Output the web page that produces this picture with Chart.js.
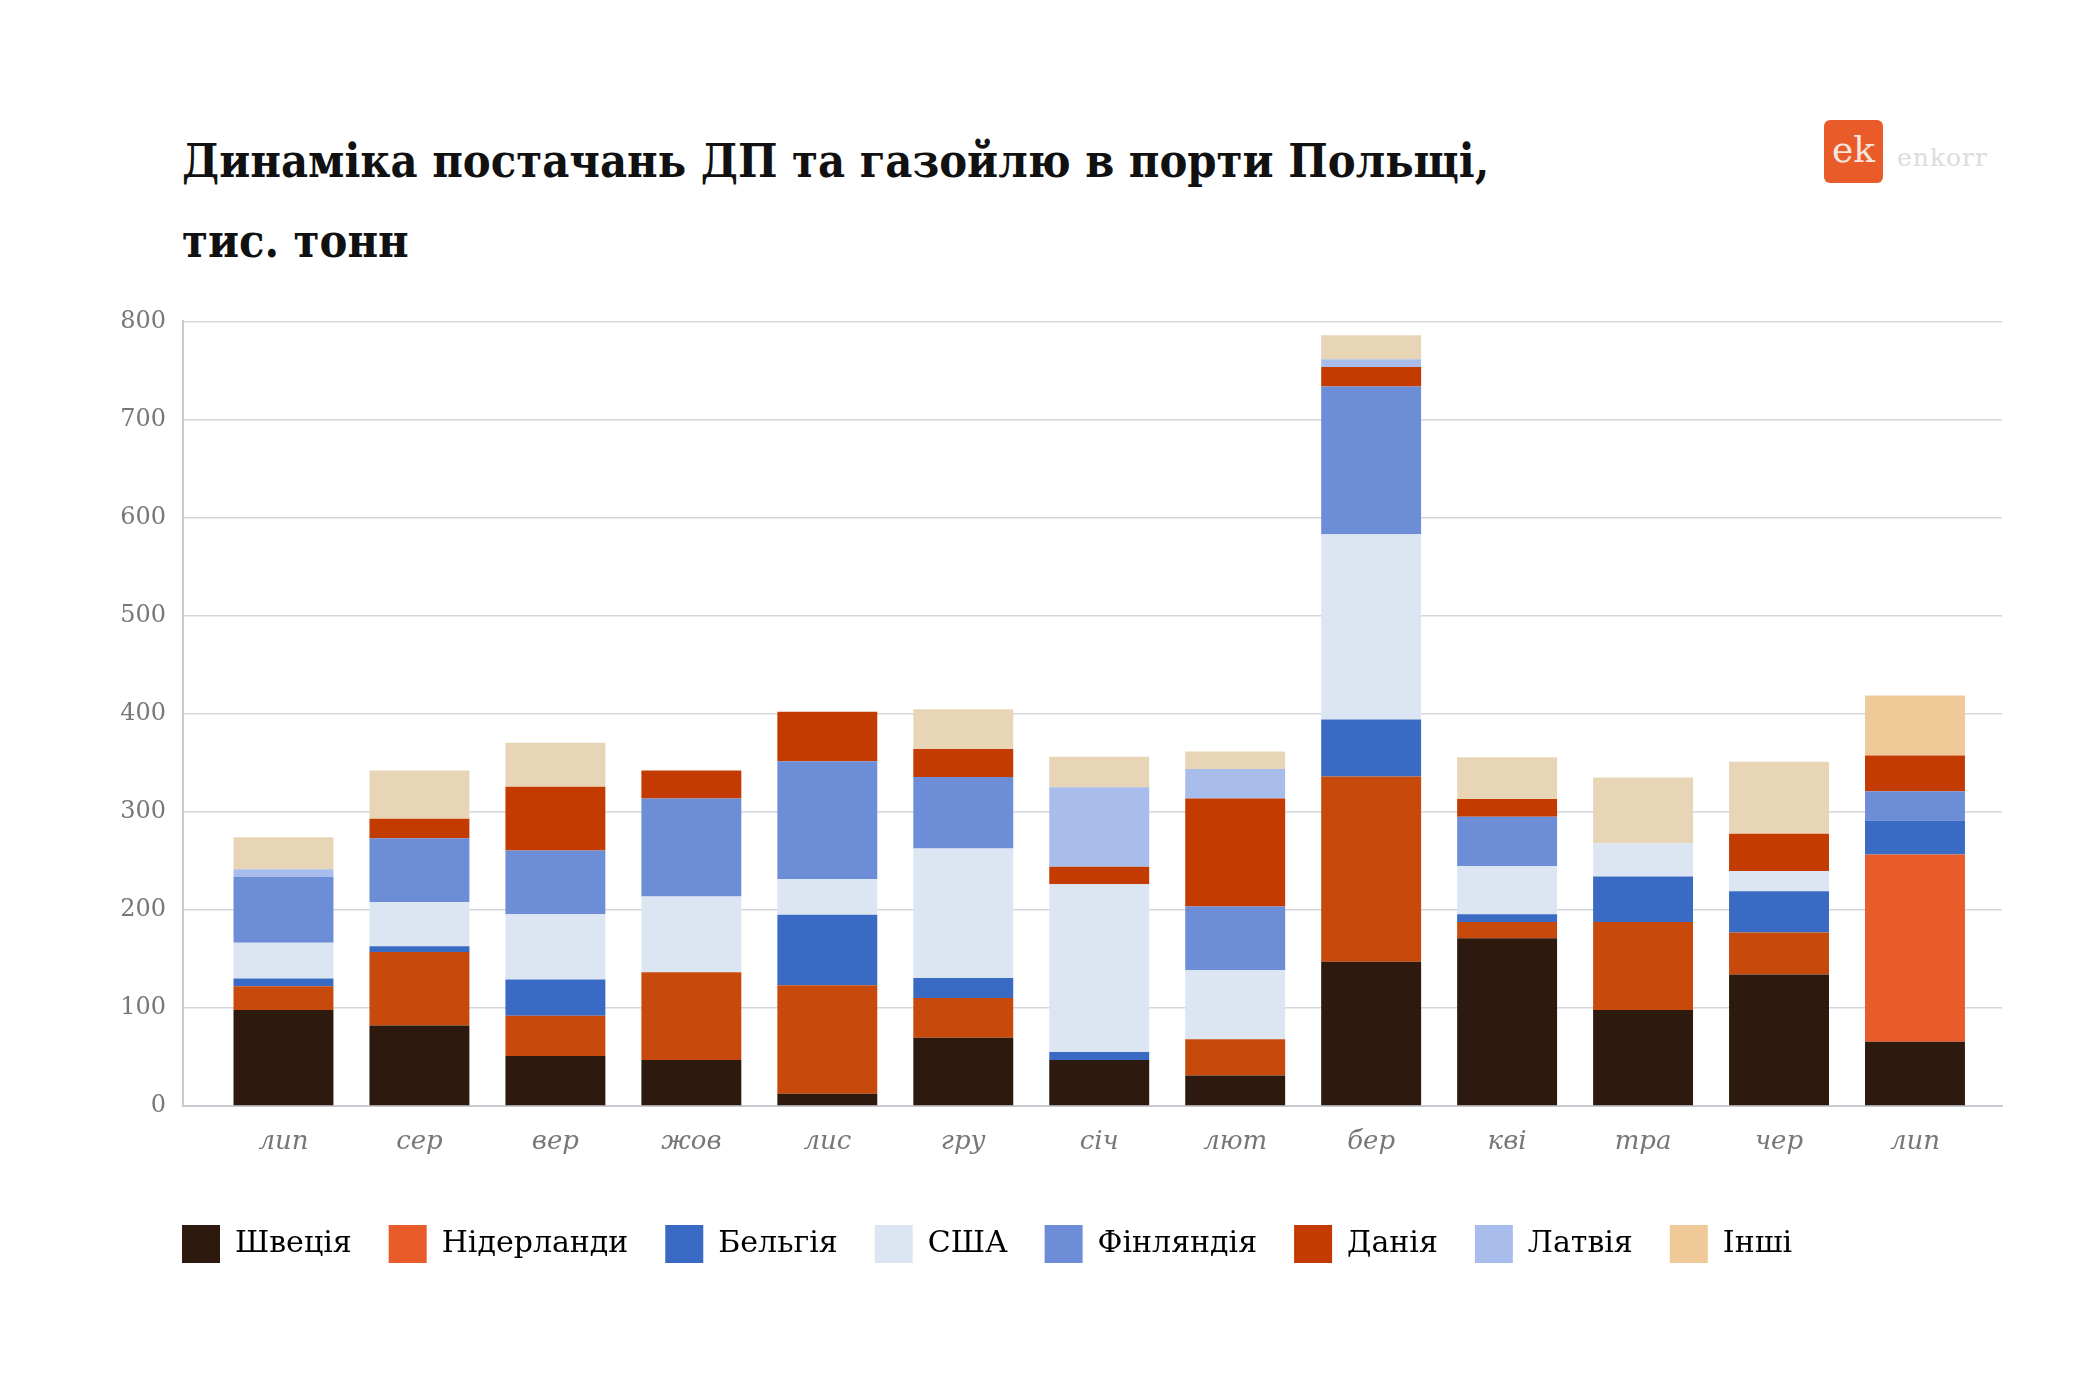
<!DOCTYPE html>
<html>
<head>
<meta charset="utf-8">
<script src="https://cdn.jsdelivr.net/npm/chart.js@4.4.1/dist/chart.umd.min.js"></script>
<style>
  html, body { margin: 0; padding: 0; background: #fff; }
  body { width: 2100px; height: 1390px; position: relative; overflow: hidden; font-family: "DejaVu Serif", serif; }
  .title { position: absolute; left: 182px; font-weight: bold; font-size: 46px; color: #111; white-space: nowrap;
           transform: scaleX(0.91); transform-origin: left center; }
  #t1 { top: 134px; }
  #t2 { top: 214px; }
  .logo { position: absolute; left: 1824px; top: 120px; width: 59px; height: 63px; background: #EA5B2A; border-radius: 6px;
          color: #f3e6df; font-size: 36px; line-height: 60px; text-align: center; }
  .logo-word { position: absolute; left: 1897px; top: 143px; font-size: 25px; color: #dcdcdc; letter-spacing: 1px; }
  #wrap { position: absolute; left: 0; top: 290px; width: 2100px; height: 983px; }
</style>
</head>
<body>
<div class="title" id="t1">Динаміка постачань ДП та газойлю в порти Польщі,</div>
<div class="title" id="t2">тис. тонн</div>
<div class="logo">ek</div>
<div class="logo-word">enkorr</div>
<div id="wrap"><canvas id="chart"></canvas></div>

<script>
// months (July to July)
const months = ['лип', 'сер', 'вер', 'жов', 'лис', 'гру', 'січ', 'лют', 'бер', 'кві', 'тра', 'чер', 'лип'];
const yTicks = [0, 100, 200, 300, 400, 500, 600, 700, 800];

// thousand tonnes
const sweden      = [98, 82, 51, 47, 12.5, 69.5, 47, 31, 147, 171, 98, 134, 65.5];
const netherlands = [24, 75, 41, 89.5, 110.5, 40.5, 0, 37, 189, 16.5, 89.5, 43, 191];
const belgium     = [8, 6, 37, 0, 72, 20.5, 8, 0, 58, 8, 46.5, 42, 34.5];
const usa         = [36.5, 45, 66.5, 77, 36.5, 132, 171, 70.5, 189, 49, 34, 20.5, 0];
const finland     = [67, 65, 65, 100, 120, 73, 0, 65, 150.5, 50.5, 0, 0, 30];
const denmark     = [0, 20, 65, 28.5, 50.5, 28.5, 18, 110, 20, 18, 0, 38, 36.5];
const latvia      = [8, 0, 0, 0, 0, 0, 81, 30, 8, 0, 0, 0, 0];
const others      = [32.5, 49, 45, 0, 0, 40.5, 31, 18, 24.5, 42.5, 67, 73.5, 61];

const names = ['Швеція', 'Нідерланди', 'Бельгія', 'США', 'Фінляндія', 'Данія', 'Латвія', 'Інші'];
const series = [sweden, netherlands, belgium, usa, finland, denmark, latvia, others];
// legend colours (also used on the last bar); older bars use a slightly different tone for two series
const legendColors = ['#2D190D', '#E95B29', '#3A6BC4', '#DCE6F2', '#6D8ED6', '#C33B00', '#A8BDEB', '#F0C999'];
const oldColors    = ['#2D190D', '#C74A0C', '#3A6BC4', '#DCE6F2', '#6D8ED6', '#C33B00', '#A8BDEB', '#E8D5B5'];

// x is a linear index scale so the bars can sit inset from the axis ends like the original
const datasets = series.map((vals, i) => ({
  label: names[i],
  data: vals.map((v, j) => ({ x: j, y: v })),
  backgroundColor: vals.map((v, j) => j === vals.length - 1 ? legendColors[i] : oldColors[i]),
  borderWidth: 0,
  categoryPercentage: 1,
  barPercentage: 0.735
}));

// legend starts under the plot, not under the y labels
const legendShift = {
  id: 'legendShift',
  afterLayout(chart) {
    chart.legend.left += 55;
    chart.legend.right += 55;
  }
};

const ctx = document.getElementById('chart').getContext('2d');
new Chart(ctx, {
  type: 'bar',
  data: { datasets },
  plugins: [legendShift],
  options: {
    responsive: true,
    maintainAspectRatio: false,
    animation: false,
    layout: { padding: { left: 90, right: 98, top: 21, bottom: 0 } },
    plugins: {
      tooltip: { enabled: false },
      legend: {
        position: 'bottom',
        align: 'start',
        labels: {
          boxWidth: 38,
          boxHeight: 38,
          padding: 37,
          color: '#1a1a1a',
          font: { family: 'DejaVu Serif', size: 30 },
          generateLabels: () => names.map((n, i) => ({
            text: n, fillStyle: legendColors[i], strokeStyle: legendColors[i], lineWidth: 0, datasetIndex: i
          }))
        }
      }
    },
    scales: {
      x: {
        type: 'linear',
        stacked: true,
        offset: false,
        min: -0.739,
        max: 12.64,
        afterBuildTicks: s => { s.ticks = months.map((m, j) => ({ value: j })); },
        afterFit: s => { s.height = 82; },
        grid: { display: false, drawTicks: false },
        border: { color: '#c8cbd1', width: 2 },
        ticks: {
          color: '#777', padding: 21, autoSkip: false, maxRotation: 0,
          font: { family: 'DejaVu Serif', size: 26, style: 'italic' },
          callback: v => months[v]
        }
      },
      y: {
        stacked: true,
        min: 0,
        max: 800,
        afterBuildTicks: s => { s.ticks = yTicks.map(v => ({ value: v })); },
        afterFit: s => { s.width = 93; },
        grid: { color: '#d3d6dc', lineWidth: 1.5, drawTicks: false },
        border: { color: '#c8cbd1', width: 2 },
        ticks: { color: '#777', padding: 17, font: { family: 'DejaVu Serif', size: 24 } }
      }
    }
  }
});
</script>
</body>
</html>
